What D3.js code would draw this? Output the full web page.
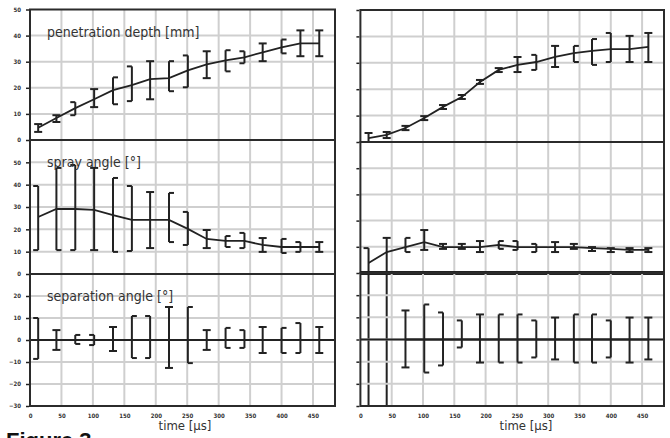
<!DOCTYPE html>
<html><head><meta charset="utf-8">
<script src="https://cdn.jsdelivr.net/npm/d3@7/dist/d3.min.js"></script>
<style>body{margin:0;background:#fff}svg{display:block}</style>
</head><body><svg id="c" width="670" height="438"></svg>
<script>
// ---------- data ----------
const time = [13,42,72,102,132,162,191,221,251,281,311,341,370,400,430,460];
const xTicks = [0,50,100,150,200,250,300,350,400,450];
const xTickLabels = ["0","50","100","150","200","250","300","350","400","450"];

const panelTitles = ["penetration depth [mm]", "spray angle [°]", "separation angle [°]"];
const xTitle = "time [µs]";
const figLabel = "Figure 3";

// left column
const penLeft    = [4.7,8.4,12.2,15.6,19.1,21.0,23.3,23.7,26.7,29.0,30.5,31.7,33.6,35.5,37.0,37.0];
const penLeftLo  = [3.1,6.9,9.5,12.6,13.7,14.9,15.6,18.7,20.2,23.7,26.3,29.4,30.2,33.2,32.1,32.1];
const penLeftHi  = [6.1,9.5,14.5,19.5,24.0,28.2,30.2,30.2,32.4,34.0,34.4,34.0,37.0,38.5,42.0,42.0];
const sprayLeft   = [25.5,29.1,29.1,28.7,26.4,24.2,24.2,24.2,20.2,15.7,14.8,14.8,13.0,12.1,12.1,12.1];
const sprayLeftLo = [10.7,10.7,10.7,10.7,9.9,10.3,11.6,14.3,13.0,11.6,12.1,11.6,9.9,9.4,9.9,9.9];
const sprayLeftHi = [39.4,47.5,48.8,47.5,43.0,39.4,36.7,36.3,27.8,19.7,17.0,18.4,16.1,15.7,14.3,14.3];
const sepLeft   = [0,0,0,0,0,0,0,0,0,0,0,0,0,0,0,0];
const sepLeftLo = [-8.6,-4.5,-1.8,-2.3,-5.0,-8.2,-8.2,-12.7,-10.5,-4.5,-3.6,-3.6,-5.9,-5.9,-5.9,-5.9];
const sepLeftHi = [10.0,4.5,2.3,2.3,5.9,10.9,10.9,15.0,15.0,4.5,5.5,4.5,5.9,5.5,7.7,5.9];

// right column
const penRight    = [1.5,2.7,5.3,9.1,13.3,17.0,22.7,27.3,29.2,30.3,32.2,33.7,34.5,35.2,35.2,36.0];
const penRightLo  = [0.0,1.5,4.5,8.3,12.5,16.3,22.0,26.5,26.5,27.3,28.4,30.3,29.2,30.3,30.3,30.3];
const penRightHi  = [3.4,3.8,6.1,9.8,14.0,17.8,23.5,28.0,32.2,33.0,36.4,36.4,39.0,41.3,40.2,41.3];
const sprayRight   = [3.8,8.0,9.9,11.8,9.9,9.9,9.9,10.7,9.9,9.9,9.9,9.9,9.5,9.2,8.8,8.8];
const sprayRightLo = [-52,-52,8.0,8.8,9.2,9.2,8.0,9.2,8.8,8.0,8.0,9.2,8.4,8.0,8.0,8.0];
const sprayRightHi = [9.5,13.4,13.4,16.4,11.1,11.1,12.2,12.2,12.2,11.1,11.8,11.1,9.9,9.5,9.5,9.5];
const sepRight   = [null,null,0,0,0,0,0,0,0,0,0,0,0,0,0,0];
const sepRightLo = [null,null,-12.6,-14.9,-11.7,-3.6,-10.4,-10.4,-10.4,-8.1,-9.0,-10.4,-10.4,-8.1,-10.4,-9.0];
const sepRightHi = [null,null,13.1,15.8,12.2,8.6,11.3,11.3,11.3,8.6,9.9,11.3,11.3,8.6,9.9,9.9];

const penTicks = [0,10,20,30,40,50];
const sprayTicksLeft = [0,10,20,30,40,50,60];
const sprayTicksRight = [0,10,20,30,40,50];
const sepTicks = [-30,-20,-10,0,10,20,30];

// ---------- style / layout ----------
const FRAME = "#2b2b2b", GRID = "#cfcfcf", INK = "#222";
const FIGBOTTOM = 406;
const cols = [
  {x0:30, x1:335, labels:true, titleX:185, panels:[
    {y0:9.5, y1:140, dom:[0,50], ticks:penTicks, v:penLeft, lo:penLeftLo, hi:penLeftHi, caps:"II]I[]I[]I[]I[II", title:panelTitles[0]},
    {y0:140, y1:274, dom:[0,60], ticks:sprayTicksLeft, v:sprayLeft, lo:sprayLeftLo, hi:sprayLeftHi, caps:"][]I[]I[]I[]I[]I", title:panelTitles[1]},
    {y0:274, y1:406, dom:[-30,30], ticks:sepTicks, v:sepLeft, lo:sepLeftLo, hi:sepLeftHi, caps:"]I[]I[]I[I[]I[]I", title:panelTitles[2], zero:true}
  ]},
  {x0:360.4, x1:664, labels:false, titleX:526, panels:[
    {y0:10, y1:142, dom:[0,50], ticks:penTicks, v:penRight, lo:penRightLo, hi:penRightHi, caps:"IIIIIIIII]I[[]II"},
    {y0:142, y1:273, dom:[0,50], ticks:sprayTicksRight, v:sprayRight, lo:sprayRightLo, hi:sprayRightHi, caps:"]I[IIII[]]IIIIII", thickBottom:true},
    {y0:273, y1:406, dom:[-30,30], ticks:sepTicks, v:sepRight, lo:sepRightLo, hi:sepRightHi, caps:"III[]]I[[]I[[]II", zero:true}
  ]}
];

const svg = d3.select("#c");
const FONT = "'Liberation Sans Narrow','DejaVu Sans Condensed','Arial Narrow',sans-serif";

cols.forEach(col => {
  const x = d3.scaleLinear().domain([0,485]).range([col.x0, col.x1]);
  const gCol = svg.append("g");
  col.panels.forEach((p, pi) => {
    const y = d3.scaleLinear().domain(p.dom).range([p.y1, p.y0]);
    const g = gCol.append("g");
    // grid
    g.append("g").selectAll("line").data(xTicks.slice(1)).join("line")
      .attr("x1", d=>x(d)).attr("x2", d=>x(d)).attr("y1", p.y0).attr("y2", p.y1)
      .attr("stroke", GRID).attr("stroke-width", 2);
    g.append("g").selectAll("line").data(p.ticks.slice(1,-1)).join("line")
      .attr("x1", col.x0).attr("x2", col.x1).attr("y1", d=>y(d)).attr("y2", d=>y(d))
      .attr("stroke", GRID).attr("stroke-width", 2);
    // y ticks
    const yAxis = d3.axisLeft(y).tickValues(p.ticks).tickSize(3)
      .tickFormat(col.labels ? d3.format("d") : "");
    const ya = g.append("g").attr("transform", `translate(${col.x0-1},0)`).call(yAxis);
    ya.select(".domain").remove();
    ya.selectAll("line").attr("stroke", INK).attr("stroke-width", 1.5);
    ya.selectAll("text").attr("font-size", 6).attr("font-family", FONT).attr("font-weight", "bold")
      .attr("fill", "#333").attr("dx", -2);
    if (pi > 0) ya.selectAll(".tick").filter(d => d === p.dom[1]).remove();
    // zero line
    if (p.zero) {
      g.append("line").attr("x1", col.x0).attr("x2", col.x1).attr("y1", y(0)).attr("y2", y(0))
        .attr("stroke", INK).attr("stroke-width", 2);
    }
    // line
    const pts = time.map((t,i)=>({t, v:p.v[i], lo:p.lo[i], hi:p.hi[i], c:p.caps[i]}));
    const line = d3.line().defined(d=>d.v!=null).x(d=>x(d.t)).y(d=>y(d.v));
    g.append("path").datum(pts).attr("d", line).attr("fill","none")
      .attr("stroke", INK).attr("stroke-width", 1.8);
    // error bars
    const eb = g.append("g").attr("stroke", INK).attr("stroke-width", 2).attr("fill","none");
    pts.filter(d=>d.lo!=null).forEach(d => {
      const cx = x(d.t);
      const yl = Math.min(y(d.lo), FIGBOTTOM), yh = y(d.hi);
      eb.append("line").attr("x1",cx).attr("x2",cx).attr("y1",yl).attr("y2",yh);
      let a = -4, b = 4;
      if (d.c === "[") { a = 0; b = 5; }
      if (d.c === "]") { a = -5; b = 0; }
      [yh, yl].forEach(yy => {
        if (yy >= FIGBOTTOM) return;
        eb.append("line").attr("x1",cx+a).attr("x2",cx+b).attr("y1",yy).attr("y2",yy);
      });
    });
    // frame
    g.append("rect").attr("x", col.x0).attr("y", p.y0).attr("width", col.x1-col.x0).attr("height", p.y1-p.y0)
      .attr("fill","none").attr("stroke", FRAME).attr("stroke-width", 2);
    if (p.thickBottom) {
      g.append("line").attr("x1", col.x0).attr("x2", col.x1).attr("y1", p.y1).attr("y2", p.y1)
        .attr("stroke", INK).attr("stroke-width", 4);
    }
    if (p.title) {
      g.append("text").attr("x", 47).attr("y", p.y0 + 27).text(p.title)
        .attr("font-family", FONT).attr("font-size", 14).attr("fill", "#333");
    }
  });
  // x axis labels
  const xa = gCol.append("g").attr("transform", `translate(0,${FIGBOTTOM+5})`)
    .call(d3.axisBottom(x).tickValues(xTicks).tickSize(0).tickFormat((d,i)=>xTickLabels[i]));
  xa.select(".domain").remove();
  xa.selectAll("text").attr("font-size", 6).attr("font-family", FONT).attr("font-weight","bold").attr("fill","#333");
  gCol.append("text").attr("x", col.titleX).attr("y", 430).attr("text-anchor","middle")
    .text(xTitle).attr("font-family", FONT).attr("font-size", 13).attr("fill", "#333");
});
svg.append("text").attr("x", 6).attr("y", 448).text(figLabel)
  .attr("font-family", "'Liberation Sans','Arial',sans-serif").attr("font-weight","bold").attr("font-size", 22).attr("fill","#111");
</script></body></html>
